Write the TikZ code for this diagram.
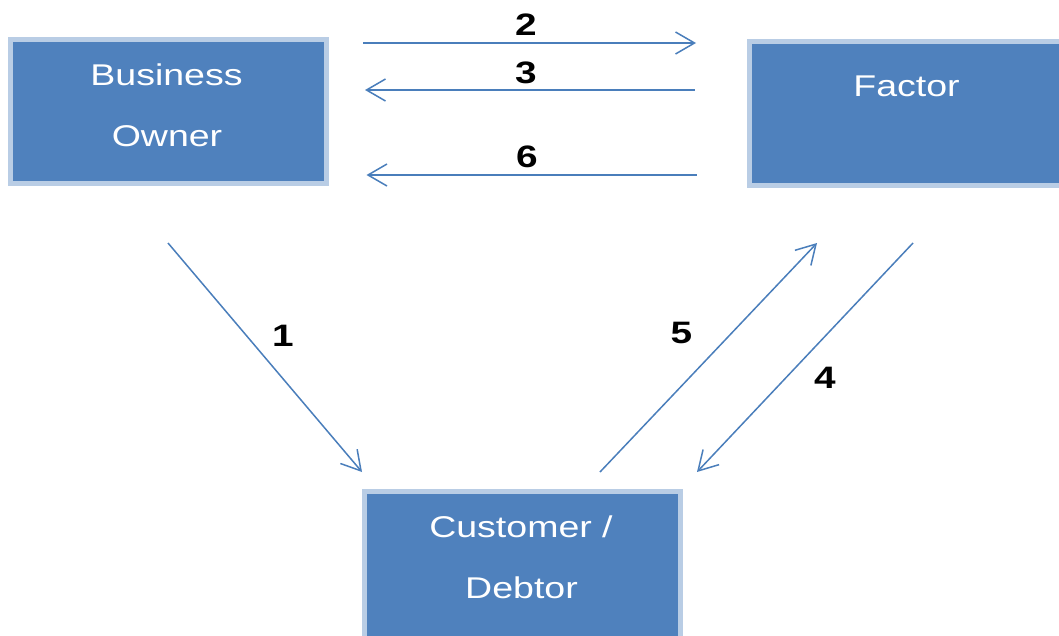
\documentclass[tikz,border=0pt]{standalone}
\usepackage{fontspec}
\setmainfont{Liberation Sans}
\newfontfamily\boxfont[FakeStretch=1.25]{Liberation Sans}
\usetikzlibrary{arrows.meta}
\definecolor{boxfill}{HTML}{4F81BD}
\definecolor{boxring}{HTML}{B9CDE5}
\definecolor{arrcol}{HTML}{4A7EBB}
\tikzset{
  box/.style={draw=boxring, fill=boxfill, line width=5pt, rectangle, inner sep=0pt},
  boxtext/.style={text=white, font=\boxfont\fontsize{30}{36}\selectfont, anchor=base, inner sep=0pt},
  numlbl/.style={text=black, font=\boxfont\bfseries\fontsize{31}{36}\selectfont, anchor=base, inner sep=0pt},
  arr/.style={draw=arrcol, line width=1.5pt, -{Straight Barb[length=19pt,width=22pt,line width=1.5pt]}}
}
\begin{document}
\begin{tikzpicture}[x=1pt,y=-1pt]
\useasboundingbox (0,0) rectangle (1059,635);
% boxes
\node[box, minimum width=316pt, minimum height=144.6pt] (bo) at (168.8,111.5) {};
\node[box, minimum width=326pt, minimum height=144.3pt] (fac) at (912.2,113.6) {};
\node[box, minimum width=315.8pt, minimum height=158.5pt] (cus) at (522.1,570.7) {};
% box texts
\node[boxtext] (bo1) at (166.5,85) {Business};
\node[boxtext] (bo2) at (167,146) {Owner};
\node[boxtext] (fac1) at (906.5,96.5) {Factor};
\node[boxtext] (cus1) at (521,537) {Customer /};
\node[boxtext] (cus2) at (521.5,598) {Debtor};
% arrow end points
\coordinate (a2s) at (363,43);
\coordinate (a2e) at (696,43);
\coordinate (a3s) at (694.5,90);
\coordinate (a3e) at (365,90);
\coordinate (a6s) at (696.5,175);
\coordinate (a6e) at (366.5,175);
\coordinate (a1s) at (168,243);
\coordinate (a1e) at (362,472);
\coordinate (a5s) at (600,472);
\coordinate (a5e) at (817,243);
\coordinate (a4s) at (913,243);
\coordinate (a4e) at (697,472);
% arrows
\draw[arr] (a2s) -- (a2e);
\draw[arr] (a3s) -- (a3e);
\draw[arr] (a6s) -- (a6e);
\draw[arr] (a1s) -- (a1e);
\draw[arr] (a5s) -- (a5e);
\draw[arr] (a4s) -- (a4e);
% labels
\node[numlbl] (l2) at (526,35) {2};
\node[numlbl] (l3) at (526,83) {3};
\node[numlbl] (l6) at (527,167) {6};
\node[numlbl] (l1) at (283,346.5) {1};
\node[numlbl] (l5) at (681.5,343) {5};
\node[numlbl] (l4) at (825,388) {4};
\end{tikzpicture}
\end{document}
